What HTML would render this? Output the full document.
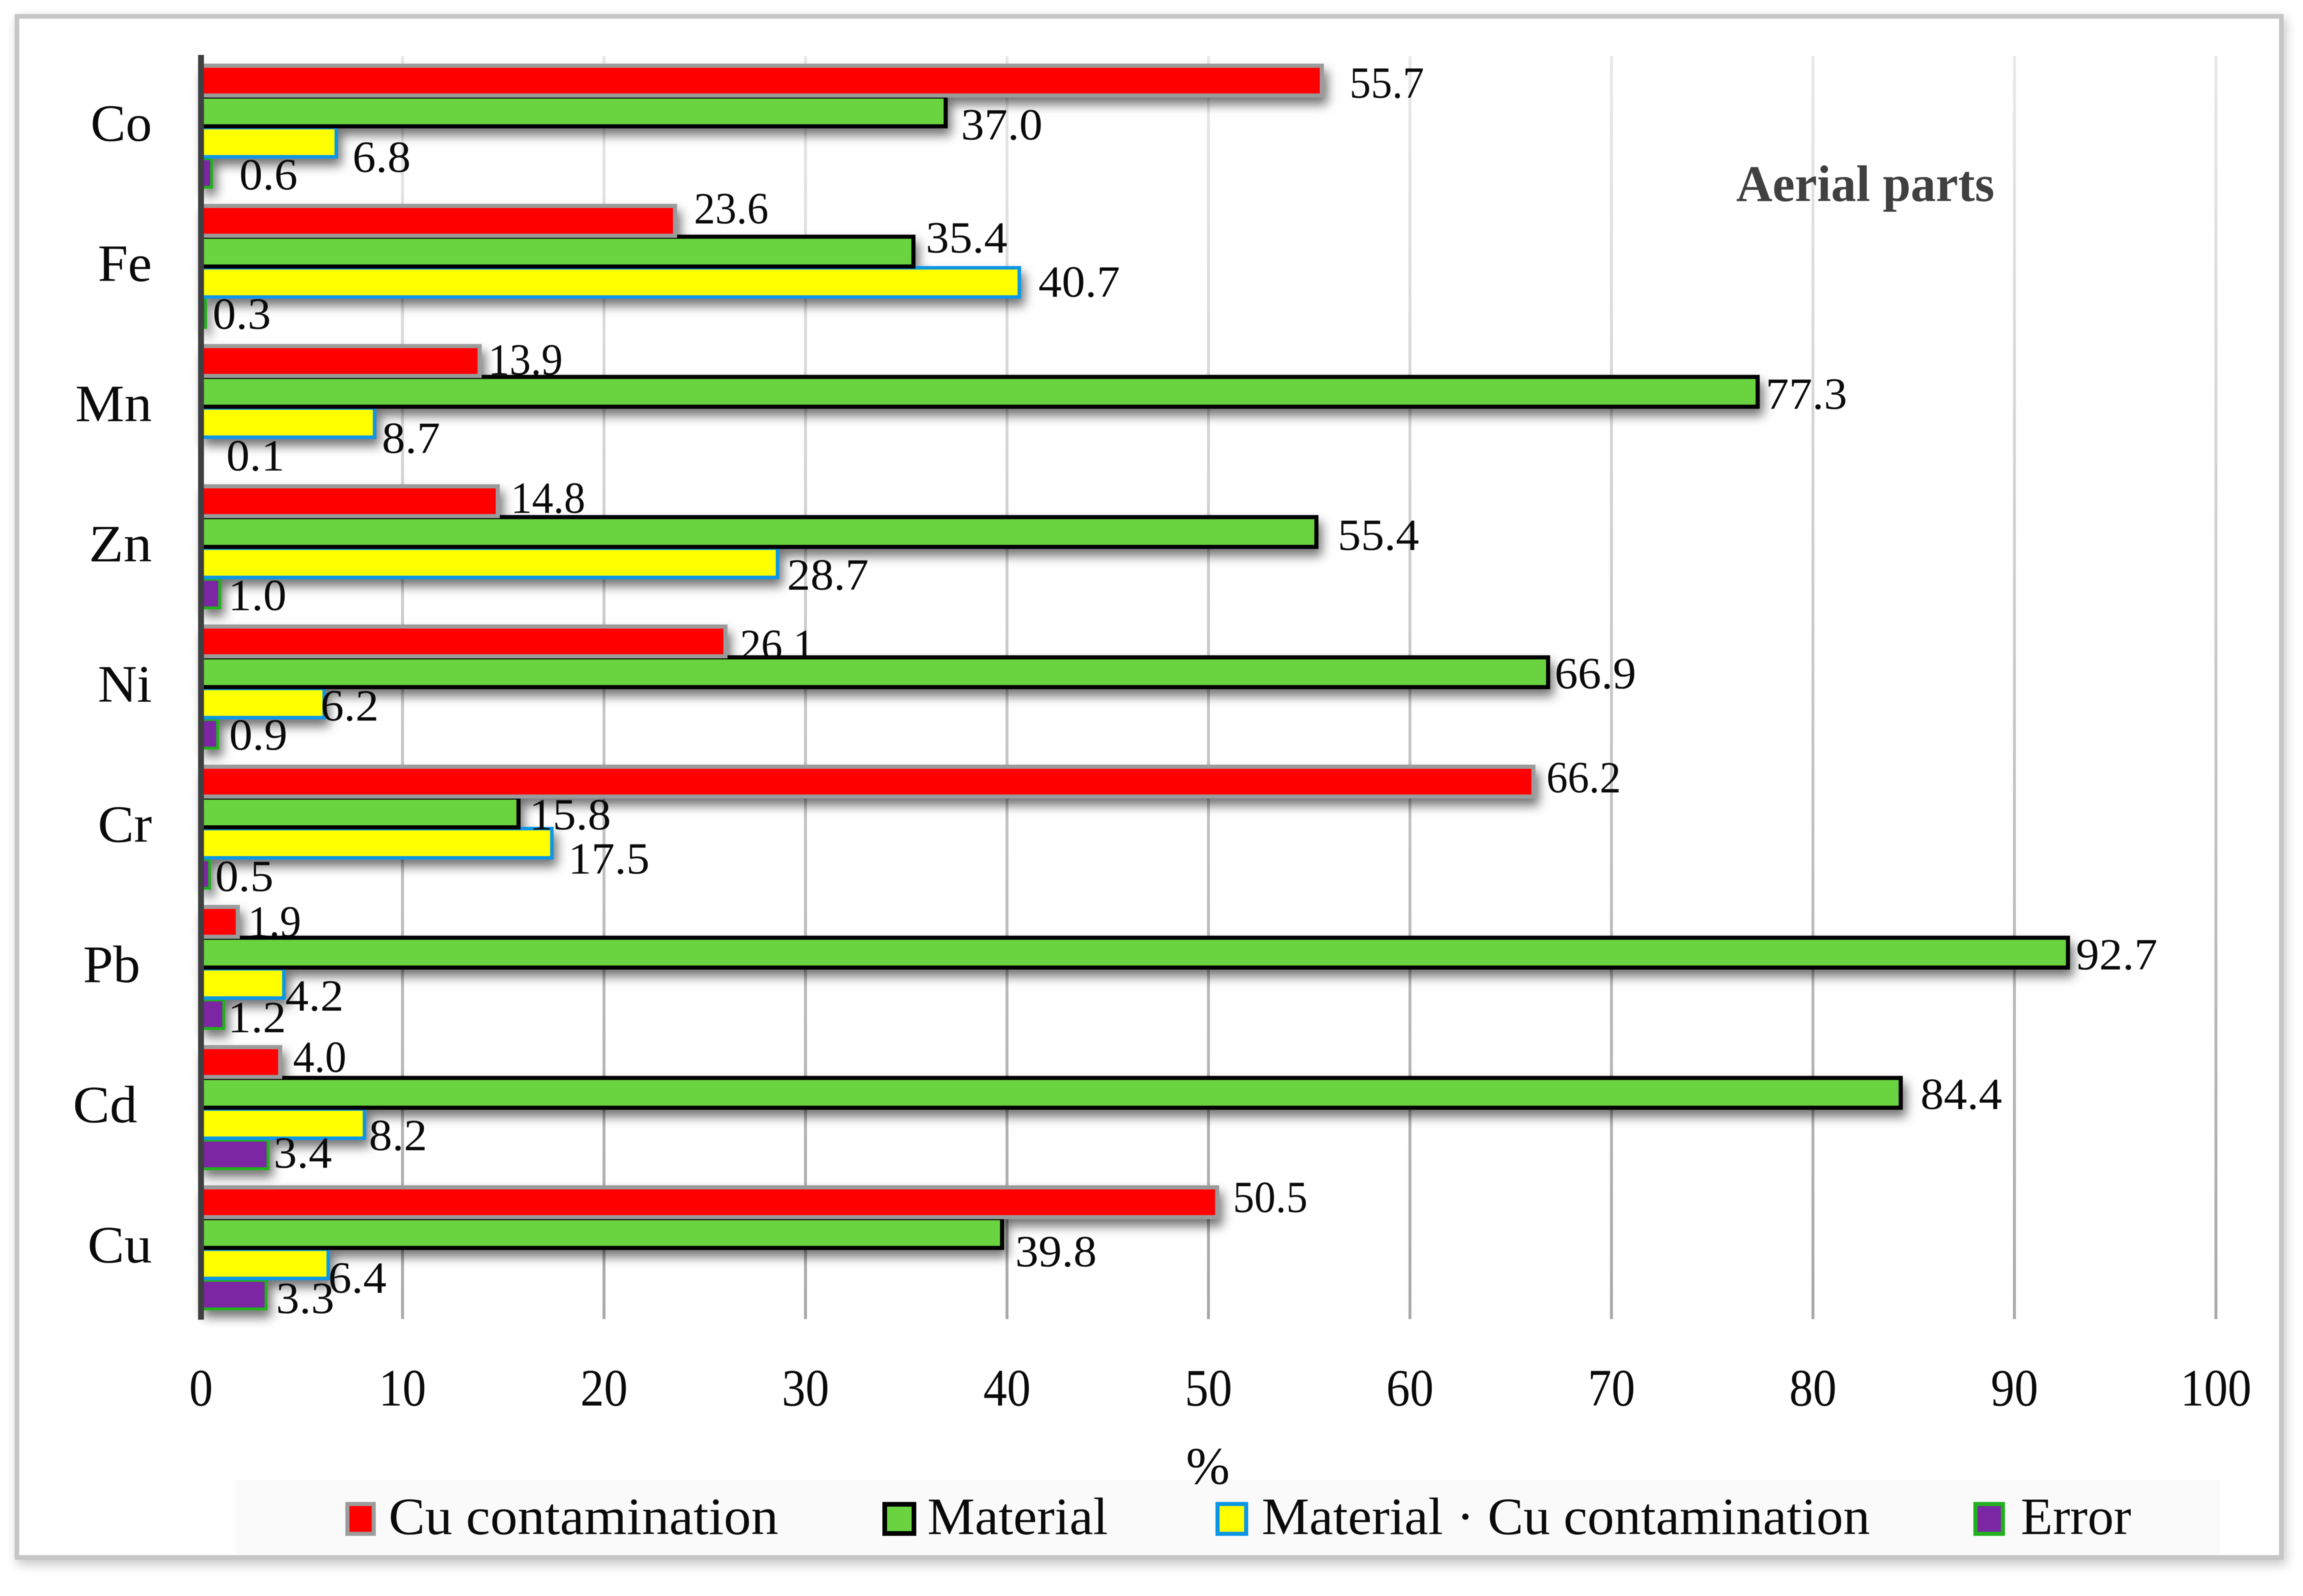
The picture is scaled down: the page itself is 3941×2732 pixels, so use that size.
<!DOCTYPE html>
<html lang="en">
<head>
<meta charset="utf-8">
<title>Aerial parts</title>
<style>
html,body{margin:0;padding:0;background:#fff;}
svg{display:block;filter:blur(0.9px);}
text{font-family:"Liberation Serif",serif;fill:#0a0a0a;}
</style>
</head>
<body>
<svg id="chart" xmlns="http://www.w3.org/2000/svg" width="3941" height="2732" viewBox="0 0 3941 2732">
  <defs>
    <filter id="frameShadow" x="-3%" y="-3%" width="106%" height="106%">
      <feDropShadow dx="4" dy="8" stdDeviation="9" flood-color="#000" flood-opacity="0.22"/>
    </filter>
    <filter id="barShadow" filterUnits="userSpaceOnUse" x="0" y="0" width="3941" height="2732">
      <feDropShadow dx="6" dy="12" stdDeviation="9" flood-color="#000" flood-opacity="0.55"/>
    </filter>
    <linearGradient id="gridFade" gradientUnits="userSpaceOnUse" x1="0" y1="96" x2="0" y2="2258">
      <stop offset="0" stop-color="#e8e8e8"/>
      <stop offset="0.45" stop-color="#cbcbcb"/>
      <stop offset="1" stop-color="#a8a8a8"/>
    </linearGradient>
  </defs>
  <rect width="3941" height="2732" fill="#fff"/>
  <rect x="29" y="28" width="3875" height="2638" fill="#fff" stroke="#c6c6c6" stroke-width="8" filter="url(#frameShadow)"/>
  <rect x="402" y="2533" width="3398" height="128" fill="#fafafa"/>
  <g id="grid"></g>
  <g id="redLabels"></g>
  <g id="bars" filter="url(#barShadow)"></g>
  <rect x="339" y="94" width="10" height="2165" fill="#3d3f41"/>
  <g id="labels"></g>
  <g id="cats"></g>
  <g id="ticks"></g>
  <text x="2067" y="2540" text-anchor="middle" font-size="90">%</text>
  <text x="2971" y="344" font-size="88" font-weight="bold" textLength="442" lengthAdjust="spacingAndGlyphs" style="fill:#404040">Aerial parts</text>
  <g id="legend"></g>
</svg>
<script>
const categories = ["Co", "Fe", "Mn", "Zn", "Ni", "Cr", "Pb", "Cd", "Cu"];
const cuContamination = [55.7, 23.6, 13.9, 14.8, 26.1, 66.2, 1.9, 4.0, 50.5];
const material = [37.0, 35.4, 77.3, 55.4, 66.9, 15.8, 92.7, 84.4, 39.8];
const materialCu = [6.8, 40.7, 8.7, 28.7, 6.2, 17.5, 4.2, 8.2, 6.4];
const errorShare = [0.6, 0.3, 0.1, 1.0, 0.9, 0.5, 1.2, 3.4, 3.3];
const xTickLabels = [0, 10, 20, 30, 40, 50, 60, 70, 80, 90, 100];
const legendLabels = ["Cu contamination", "Material", "Material \u00b7 Cu contamination", "Error"];

const NS = "http://www.w3.org/2000/svg";
const seriesValues = [cuContamination, material, materialCu, errorShare];
const seriesKeys = ["cu-contamination", "material", "material-cu", "error"];
const seriesFill = ["#ff0000", "#6bd33f", "#ffff00", "#7b26a3"];
const seriesStroke = ["#9b9b9b", "#000000", "#0a96e6", "#22b01e"];
const seriesStrokeWidth = [7, 7, 6, 5];
const legendStrokeWidth = [7, 8, 7, 7];
const seriesEndOutset = [1, 2, 0, 0];
const seriesLabelStretch = [0.96, 1.05, 1.05, 1.05];

/* label placement relative to each bar end, in units of 2.518px */
const labelDx = [
  [19, 13, 6, 9, 10, 9, 7, 9, 11],
  [11, 9, 6, 15, 5, 8, 6, 14, 9.5],
  [11, 13, 5, 6.5, -2.5, 11, 1, 3, 0],
  [19, 5, 17, 6, 8, 4, 3, 4, 7]
];
const labelDy = [
  [3, -7, 0.6, -0.7, 4, -1.3, 1.4, -2, -2],
  [10.5, -8, 3, 3.6, 2.3, 3, 2.7, 2.4, 14],
  [11.5, 1, 12, 9.6, 3.3, 12, 9.7, 9.4, 11],
  [2.5, 2, 3, 2.5, 2.2, 3, 3.6, 0.3, 4]
];
const categoryLabelInset = [0, 0, 0, 0, 0, 0, 20, 25, 0];
const categoryLabelStretch = [1, 1.03, 1.05, 1.08, 1.03, 1.03, 1.03, 1.05, 1.05];

function xScale(v) { return 344 + 34.48 * v; }
function groupTop(i) { return 116 + 240 * i; }
function barFillTop(i, s) { return groupTop(i) + 52.7 * s; }
function make(tag, parentId) {
  const node = document.createElementNS(NS, tag);
  document.getElementById(parentId).appendChild(node);
  return node;
}

xTickLabels.forEach(function (t) {
  if (t > 0) {
    const line = make("line", "grid");
    
    
    line.setAttribute("x1", xScale(t));
    line.setAttribute("x2", xScale(t));
    line.setAttribute("y1", 96);
    line.setAttribute("y2", 2258);
    line.setAttribute("stroke", "url(#gridFade)");
    line.setAttribute("stroke-width", 5);
  }
  const label = make("text", "ticks");
  
  
  label.setAttribute("transform", "translate(" + xScale(t) + " 2406) scale(0.9 1)");
  label.setAttribute("text-anchor", "middle");
  label.setAttribute("font-size", 90);
  label.textContent = t;
});

categories.forEach(function (name, i) {
  const label = make("text", "cats");
  
  
  label.setAttribute("transform", "translate(" + (260 - categoryLabelInset[i]) + " " + (241 + 240 * i) + ") scale(" + categoryLabelStretch[i] + " 1)");
  label.setAttribute("text-anchor", "end");
  label.setAttribute("font-size", 90);
  label.textContent = name;

  for (let s = 3; s >= 0; s--) {
    const v = seriesValues[s][i];
    const sw = seriesStrokeWidth[s];
    const top = barFillTop(i, s);
    const bar = make("rect", "bars");
    
    
    bar.setAttribute("x", 345);
    bar.setAttribute("y", top - sw / 2);
    bar.setAttribute("width", Math.max(0, xScale(v) + seriesEndOutset[s] - sw / 2 - 345));
    bar.setAttribute("height", 44 + sw);
    bar.setAttribute("fill", seriesFill[s]);
    bar.setAttribute("stroke", seriesStroke[s]);
    bar.setAttribute("stroke-width", sw);

    const text = make("text", s === 0 ? "redLabels" : "labels");
    
    
    const lx = xScale(v) + (labelDx[s][i] - 1.2) * 2.518;
    const ly = top + 22 + (labelDy[s][i] - 1.2) * 2.518 + 25;
    text.setAttribute("transform", "translate(" + lx + " " + ly + ") scale(" + seriesLabelStretch[s] + " 1)");
    text.setAttribute("font-size", 76);
    text.textContent = v.toFixed(1);
  }
});

const legendSwatchLeft = [591, 1510, 2080, 3377];
const legendSwatchWidth = [52, 58, 56, 54];
const legendTextLeft = [665, 1587, 2159, 3458];
const legendTextWidth = [667, 309, 1041, 189];
legendLabels.forEach(function (name, s) {
  const sw = legendStrokeWidth[s];
  const swatch = make("rect", "legend");
  
  
  swatch.setAttribute("x", legendSwatchLeft[s] + sw / 2);
  swatch.setAttribute("y", 2571 + sw / 2);
  swatch.setAttribute("width", legendSwatchWidth[s] - sw);
  swatch.setAttribute("height", 58 - sw);
  swatch.setAttribute("fill", seriesFill[s]);
  swatch.setAttribute("stroke", seriesStroke[s]);
  swatch.setAttribute("stroke-width", sw);

  const text = make("text", "legend");
  
  
  text.setAttribute("x", legendTextLeft[s]);
  text.setAttribute("y", 2626);
  text.setAttribute("font-size", 90);
  text.setAttribute("textLength", legendTextWidth[s]);
  text.setAttribute("lengthAdjust", "spacingAndGlyphs");
  text.textContent = name;
});
</script>
</body>
</html>
